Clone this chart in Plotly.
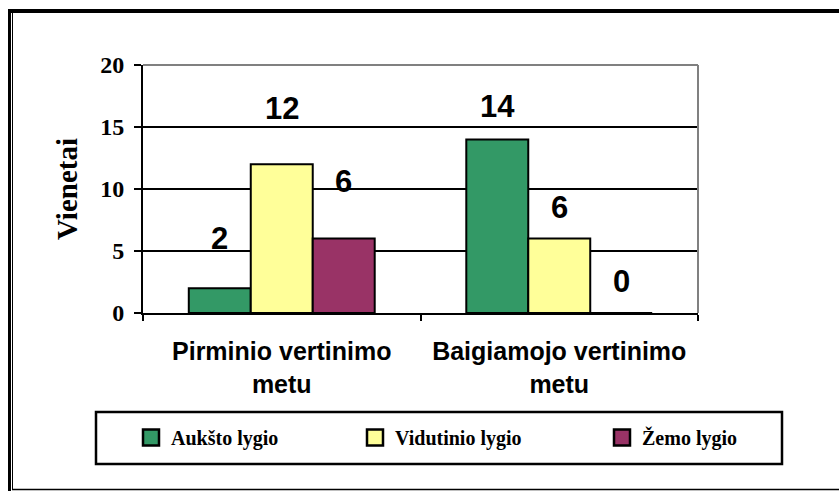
import plotly.graph_objects as go

# ---- data ----
categories = ["Pirminio vertinimo<br>metu", "Baigiamojo vertinimo<br>metu"]
series_names = ["Aukšto lygio", "Vidutinio lygio", "Žemo lygio"]
aukst = [2, 14]
vidut = [12, 6]
zemo = [6, 0]
y_ticks = [0, 5, 10, 15, 20]

# ---- style ----
colors = ["#339966", "#FFFF99", "#993366"]
label_shift = [[50, 33], [56, 31], [57, 32]]  # px above bar top (style)
legend_px = [131, 355, 602]                   # legend entry left positions (style)

W, H = 839, 491
L, R, T, B = 143, 141, 65, 178
PW, PH = W - L - R, H - T - B
BARGAP = 0.33

def px(x):
    return (x - L) / PW

def py(y):
    return (H - B - y) / PH

fig = go.Figure()
values = [aukst, vidut, zemo]
for name, vals, col in zip(series_names, values, colors):
    fig.add_trace(go.Bar(
        x=categories, y=vals, name=name, showlegend=False,
        marker=dict(color=col, line=dict(color="black", width=2)),
        hoverinfo="x+y+name",
    ))
# legend proxies, one legend each so they can be placed like the original
legend_font = dict(family="Liberation Serif, Times New Roman", size=20, color="black", weight="bold")
legend_layout = {}
for i, (name, col) in enumerate(zip(series_names, colors)):
    key = "legend" if i == 0 else f"legend{i + 1}"
    fig.add_trace(go.Scatter(
        x=[None], y=[None], mode="markers", name=name, legend=key,
        marker=dict(symbol="square", size=16, color=col,
                    line=dict(color="black", width=2.5)),
    ))
    legend_layout[key] = dict(
        orientation="h", x=px(legend_px[i]), y=py(418), xanchor="left", yanchor="top",
        font=legend_font, bgcolor="rgba(0,0,0,0)", borderwidth=0, itemsizing="trace",
    )

# value labels
cat_w = PW / len(categories)
bar_w = cat_w * (1 - BARGAP) / len(series_names)
annotations = []
for si, vals in enumerate(values):
    for ci, v in enumerate(vals):
        annotations.append(dict(
            x=categories[ci], y=v, xref="x", yref="y",
            text=str(v), showarrow=False,
            xshift=(si - 1) * bar_w, yshift=label_shift[si][ci],
            yanchor="middle",
            font=dict(family="Liberation Sans, Arial", size=31, color="black", weight="bold"),
        ))

shapes = [
    # plot area top/right gray border
    dict(type="line", xref="paper", yref="paper", x0=0, x1=1, y0=1, y1=1,
         line=dict(color="#808080", width=2)),
    dict(type="line", xref="paper", yref="paper", x0=1, x1=1, y0=0, y1=1,
         line=dict(color="#808080", width=2)),
    # legend box
    dict(type="rect", xref="paper", yref="paper", x0=px(96), x1=px(782), y0=py(412), y1=py(464),
         line=dict(color="black", width=2.5)),
    # outer frame
    dict(type="line", xref="paper", yref="paper", x0=px(8), x1=px(839), y0=py(11), y1=py(11),
         line=dict(color="black", width=4)),
    dict(type="line", xref="paper", yref="paper", x0=px(9.5), x1=px(9.5), y0=py(9), y1=py(491),
         line=dict(color="black", width=3)),
    dict(type="line", xref="paper", yref="paper", x0=px(12.5), x1=px(12.5), y0=py(13), y1=py(489),
         line=dict(color="black", width=1)),
    dict(type="line", xref="paper", yref="paper", x0=px(12), x1=px(839), y0=py(489.5), y1=py(489.5),
         line=dict(color="black", width=1.5)),
]

fig.update_layout(
    width=W, height=H,
    margin=dict(l=L, r=R, t=T, b=B, autoexpand=False),
    paper_bgcolor="white", plot_bgcolor="white",
    barmode="group", bargap=BARGAP, bargroupgap=0,
    showlegend=True,
    annotations=annotations,
    shapes=shapes,
    xaxis=dict(
        showline=True, linecolor="black", linewidth=2,
        ticks="outside", tickson="boundaries", ticklen=6, tickwidth=2, tickcolor="black",
        showgrid=False,
        tickfont=dict(family="Liberation Sans, Arial", size=25, color="black", weight="bold"),
        ticklabelstandoff=15,
    ),
    yaxis=dict(
        range=[0, 20], tickvals=y_ticks, ticktext=[str(t) for t in y_ticks],
        showline=True, linecolor="black", linewidth=2,
        ticks="outside", ticklen=7, tickwidth=2, tickcolor="black",
        showgrid=True, gridcolor="black", gridwidth=2, zeroline=False,
        tickfont=dict(family="Liberation Serif, Times New Roman", size=24, color="black", weight="bold"),
        ticklabelstandoff=5,
        title=dict(text="Vienetai", standoff=14,
                   font=dict(family="Liberation Serif, Times New Roman", size=29, color="black", weight="bold")),
    ),
    **legend_layout,
)

fig.write_html("out.html", config={"displayModeBar": False},
               post_script="document.body.style.margin='0';")
